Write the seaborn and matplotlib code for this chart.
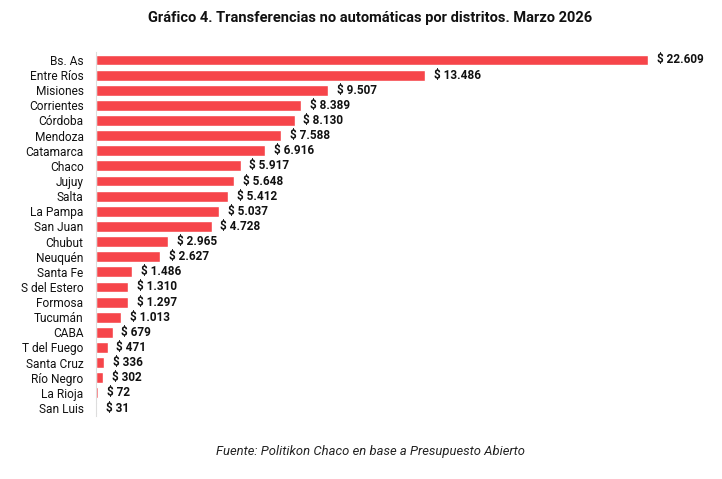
import matplotlib
matplotlib.use("Agg")
import matplotlib.pyplot as plt
import seaborn as sns
import pandas as pd

districts = ["Bs. As", "Entre Ríos", "Misiones", "Corrientes", "Córdoba", "Mendoza",
             "Catamarca", "Chaco", "Jujuy", "Salta", "La Pampa", "San Juan", "Chubut",
             "Neuquén", "Santa Fe", "S del Estero", "Formosa", "Tucumán", "CABA",
             "T del Fuego", "Santa Cruz", "Río Negro", "La Rioja", "San Luis"]
values = [22609, 13486, 9507, 8389, 8130, 7588, 6916, 5917, 5648, 5412, 5037, 4728,
          2965, 2627, 1486, 1310, 1297, 1013, 679, 471, 336, 302, 72, 31]
title = "Gráfico 4. Transferencias no automáticas por distritos. Marzo 2026"
source = "Fuente: Politikon Chaco en base a Presupuesto Abierto"

df = pd.DataFrame({"distrito": districts, "valor": values})

sns.set_theme(style="white")
plt.rcParams["font.family"] = ["Roboto", "DejaVu Sans"]

fig = plt.figure(figsize=(7.22, 4.79), dpi=100)
ax = fig.add_axes([0.133, 0.1324, 0.837, 0.7582])
sns.barplot(data=df, x="valor", y="distrito", color="#F6454A", width=0.72,
            saturation=1, ax=ax)

ax.set_xlim(0, 22609 * (700 - 96) / 552)
ax.set_xlabel("")
ax.set_ylabel("")
ax.set_xticks([])
for s in ["top", "right", "bottom"]:
    ax.spines[s].set_visible(False)
ax.spines["left"].set_color("#DDDDDD")
ax.spines["left"].set_linewidth(0.8)
ax.tick_params(axis="y", length=0, pad=9, labelsize=8.6, labelcolor="#111111")

def fmt(v):
    return "$ " + f"{v:,}".replace(",", ".")

for i, v in enumerate(values):
    ax.text(v + 22609 * 0.016, i, fmt(v), va="center", ha="left",
            fontsize=8.5, fontweight="bold", color="#111111")

fig.text(0.512, 0.962, title, ha="center", va="center", fontsize=10.5,
         fontweight="bold", color="#111111")
fig.text(0.513, 0.058, source, ha="center", va="center", fontsize=9.4,
         style="italic", color="#222222")

fig.savefig("out.png", dpi=100)
